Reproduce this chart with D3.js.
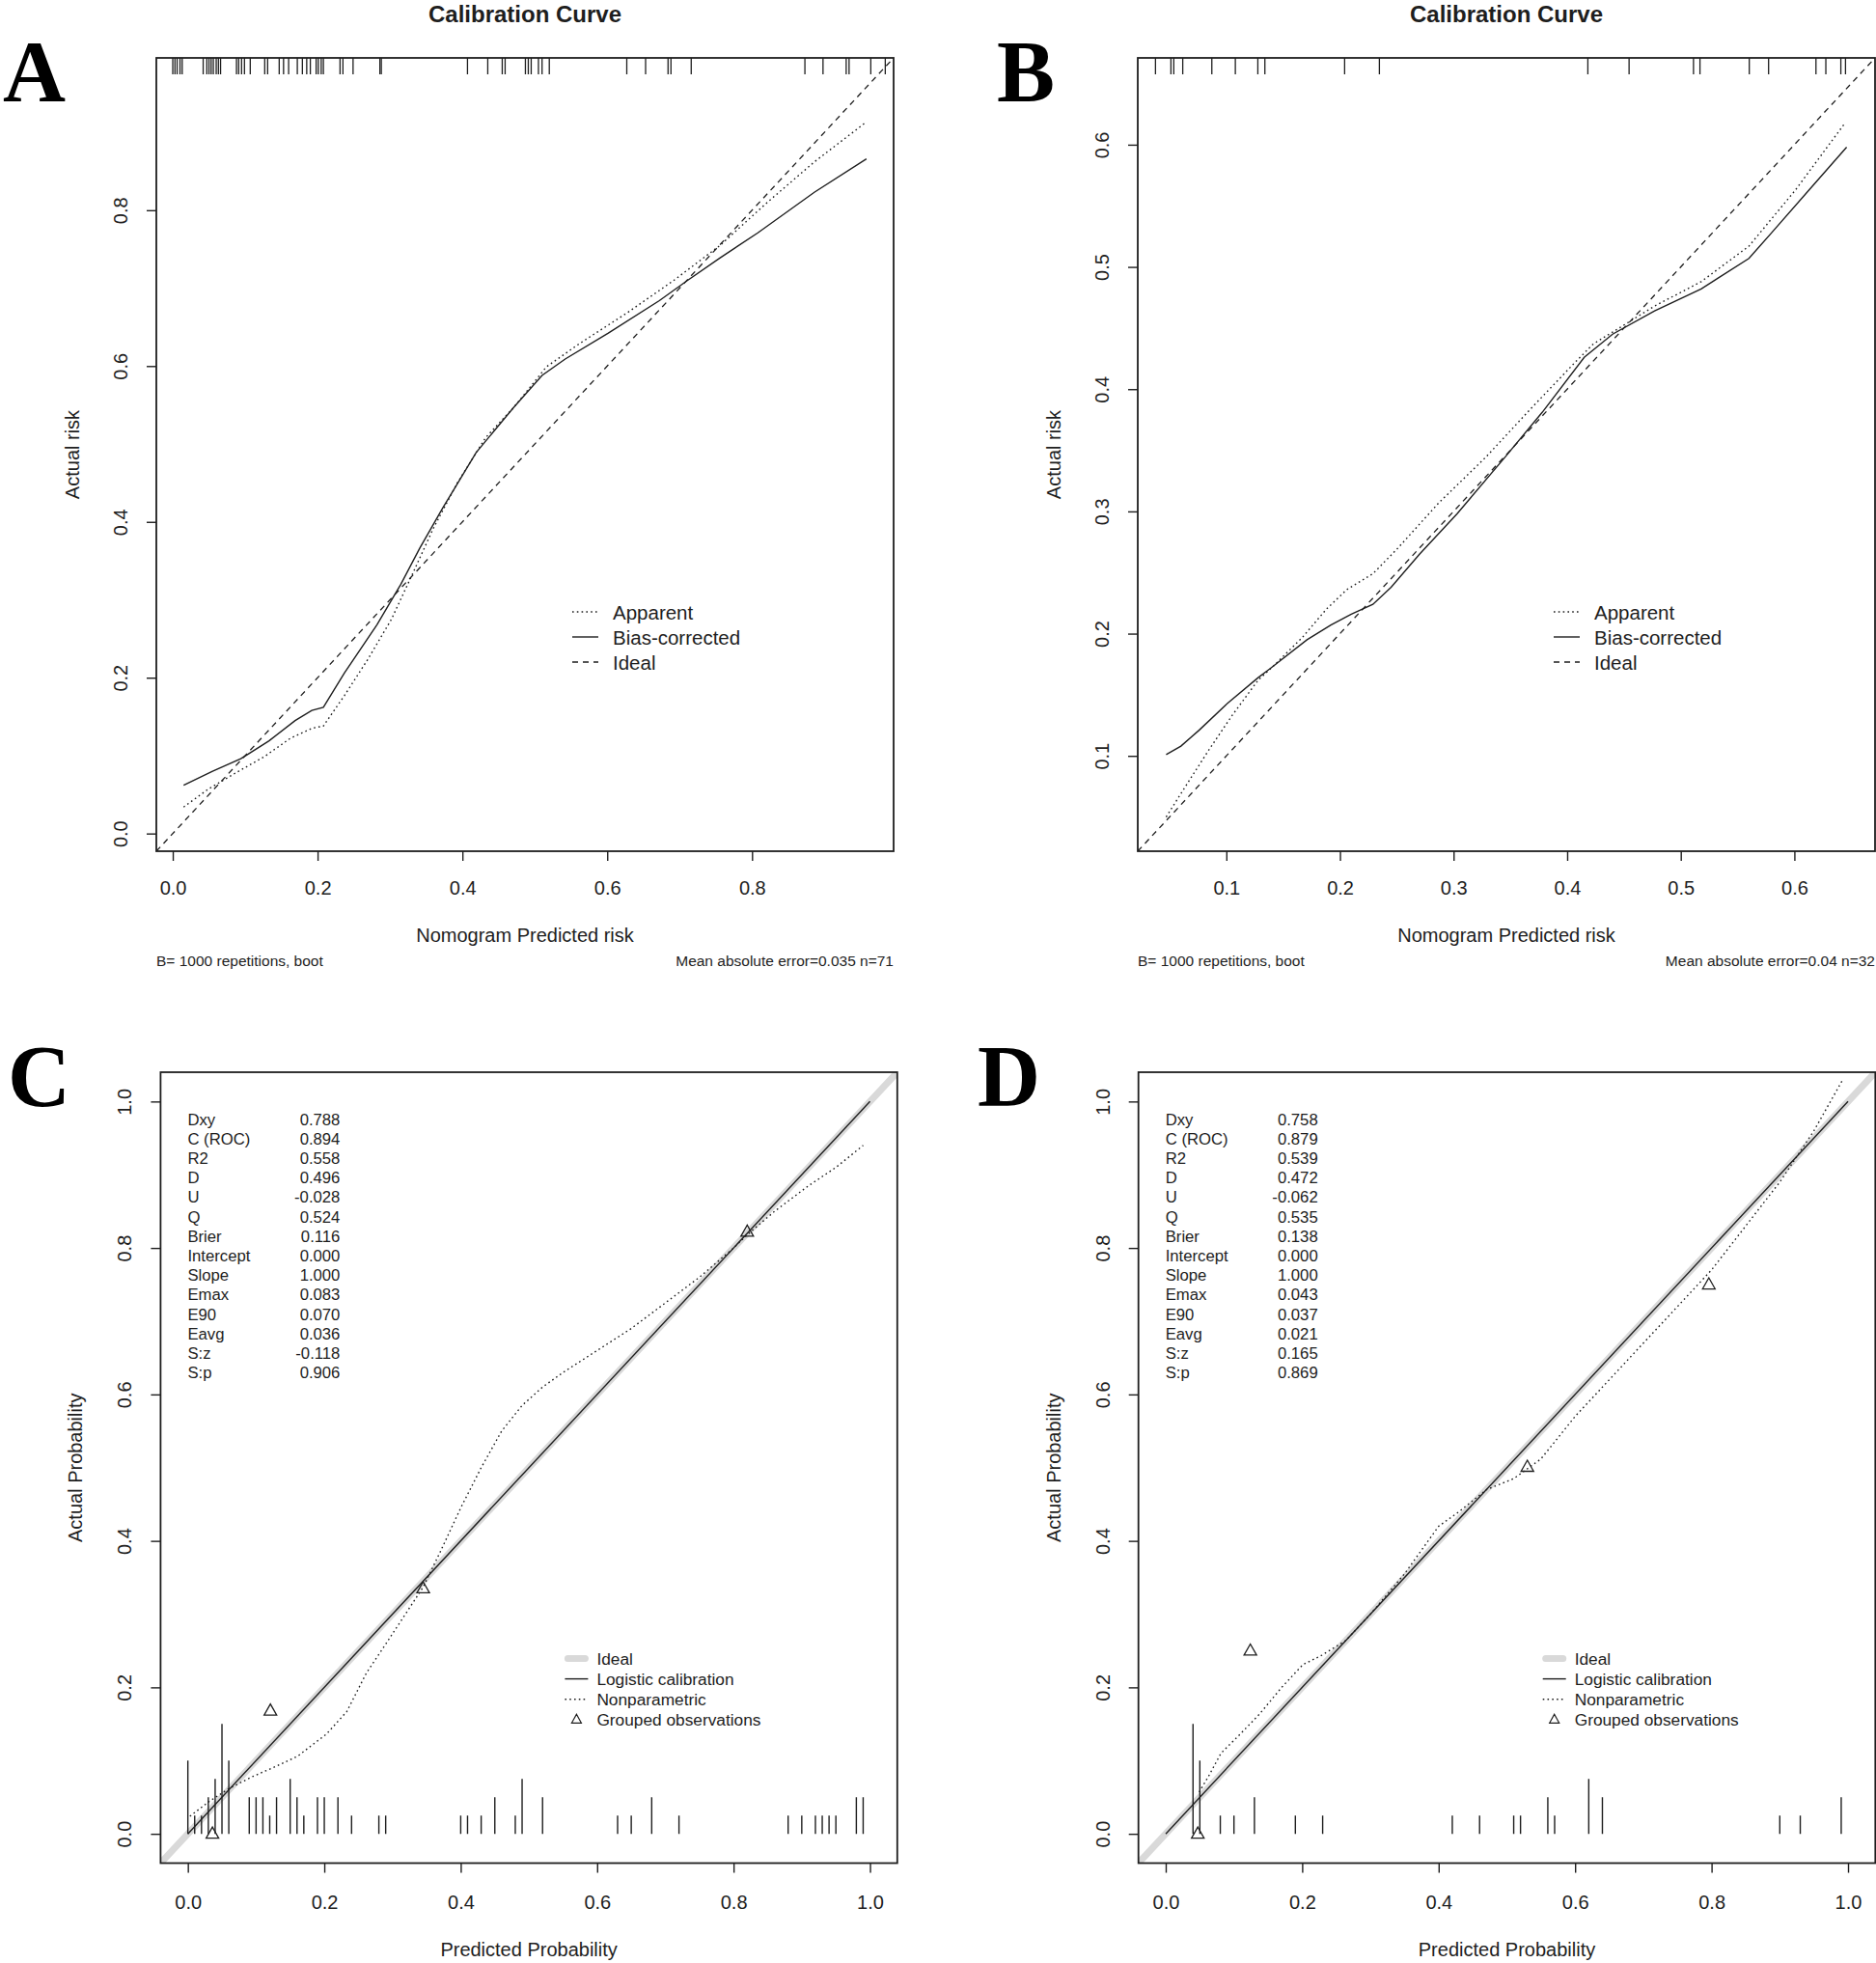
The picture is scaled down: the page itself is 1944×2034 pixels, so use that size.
<!DOCTYPE html>
<html><head><meta charset="utf-8">
<script src="https://cdn.jsdelivr.net/npm/d3@7"></script>
<style>body{margin:0;background:#fff}svg{display:block}</style>
</head><body>
<script>
// ---------------- DATA ----------------
const panelLetters = ["A","B","C","D"];
const titleText = "Calibration Curve";
const ticksA = [0,0.2,0.4,0.6,0.8];
const ticksB = [0.1,0.2,0.3,0.4,0.5,0.6];
const ticksCD = [0,0.2,0.4,0.6,0.8,1.0];

// Panel A (calibrate, n=71)
const rugA = [0.000,0.003,0.006,0.010,0.013,0.042,0.047,0.050,0.053,0.056,0.060,0.063,0.066,0.088,0.091,0.095,0.099,0.107,0.127,0.131,0.147,0.153,0.160,0.172,0.179,0.185,0.190,0.198,0.201,0.205,0.208,0.231,0.235,0.249,0.286,0.288,0.407,0.435,0.455,0.459,0.487,0.491,0.495,0.505,0.510,0.520,0.627,0.653,0.684,0.688,0.716,0.873,0.898,0.930,0.934,0.964,0.984];
const apparentA = [[0.015,0.034],[0.049,0.057],[0.091,0.080],[0.127,0.099],[0.162,0.122],[0.192,0.135],[0.208,0.138],[0.237,0.177],[0.269,0.223],[0.302,0.275],[0.331,0.333],[0.360,0.392],[0.393,0.450],[0.432,0.508],[0.471,0.547],[0.516,0.599],[0.562,0.629],[0.627,0.668],[0.692,0.710],[0.756,0.755],[0.821,0.810],[0.886,0.862],[0.956,0.912]];
const biasA = [[0.015,0.062],[0.055,0.080],[0.094,0.096],[0.133,0.119],[0.169,0.145],[0.192,0.158],[0.208,0.162],[0.237,0.206],[0.282,0.268],[0.315,0.320],[0.341,0.366],[0.373,0.418],[0.419,0.489],[0.471,0.547],[0.510,0.588],[0.542,0.609],[0.601,0.642],[0.672,0.684],[0.711,0.710],[0.756,0.739],[0.808,0.771],[0.886,0.823],[0.958,0.866]];
const footLeft = "B= 1000 repetitions, boot";
const footRightA = "Mean absolute error=0.035 n=71";

// Panel B (calibrate, n=32)
const rugB = [0.0376,0.0512,0.0537,0.0616,0.0872,0.1079,0.1277,0.1339,0.2041,0.2347,0.4182,0.4545,0.5112,0.5169,0.5603,0.5773,0.6190,0.6277,0.6409,0.6450];
const apparentB = [[0.047,0.050],[0.064,0.075],[0.084,0.104],[0.105,0.133],[0.128,0.162],[0.142,0.174],[0.167,0.197],[0.188,0.220],[0.206,0.236],[0.229,0.249],[0.250,0.269],[0.287,0.307],[0.328,0.344],[0.369,0.385],[0.407,0.422],[0.423,0.437],[0.444,0.449],[0.477,0.468],[0.518,0.488],[0.560,0.517],[0.601,0.563],[0.644,0.617]];
const biasB = [[0.047,0.101],[0.060,0.108],[0.076,0.121],[0.101,0.143],[0.128,0.164],[0.138,0.171],[0.171,0.195],[0.192,0.207],[0.210,0.216],[0.229,0.224],[0.245,0.238],[0.270,0.265],[0.303,0.298],[0.345,0.344],[0.378,0.381],[0.415,0.426],[0.440,0.445],[0.477,0.464],[0.518,0.482],[0.560,0.507],[0.580,0.528],[0.613,0.563],[0.646,0.598]];
const footRightB = "Mean absolute error=0.04 n=32";

// Legends
const legendAB = ["Apparent","Bias-corrected","Ideal"];
const legendCD = ["Ideal","Logistic calibration","Nonparametric","Grouped observations"];

// Panel C (val.prob, n=71)
const spikeXC = [0.00,0.01,0.02,0.03,0.04,0.05,0.06,0.09,0.10,0.11,0.12,0.13,0.15,0.16,0.17,0.19,0.20,0.22,0.24,0.28,0.29,0.40,0.41,0.43,0.45,0.48,0.49,0.52,0.63,0.65,0.68,0.72,0.88,0.90,0.92,0.93,0.94,0.95,0.98,0.99];
const spikeNC = [4,1,1,2,3,6,4,2,2,2,1,2,3,2,1,2,2,2,1,1,1,1,1,1,2,1,3,2,1,1,2,1,1,1,1,1,1,1,2,2];
const nonparC = [[0.003,0.024],[0.031,0.044],[0.059,0.061],[0.092,0.077],[0.124,0.090],[0.161,0.106],[0.186,0.124],[0.203,0.136],[0.233,0.167],[0.262,0.220],[0.290,0.259],[0.345,0.337],[0.370,0.385],[0.400,0.445],[0.430,0.500],[0.460,0.550],[0.490,0.585],[0.520,0.610],[0.550,0.630],[0.600,0.660],[0.650,0.690],[0.700,0.725],[0.750,0.760],[0.800,0.800],[0.820,0.818],[0.860,0.850],[0.910,0.885],[0.950,0.910],[0.990,0.940]];
const groupedC = [[0.036,0.0],[0.121,0.168],[0.345,0.335],[0.820,0.822]];
const logisticC = [[0,0],[1,1]];
const statNames = ["Dxy","C (ROC)","R2","D","U","Q","Brier","Intercept","Slope","Emax","E90","Eavg","S:z","S:p"];
const statsC = ["0.788","0.894","0.558","0.496","-0.028","0.524","0.116","0.000","1.000","0.083","0.070","0.036","-0.118","0.906"];

// Panel D (val.prob, n=32)
const spikeXD = [0.04,0.05,0.08,0.10,0.13,0.19,0.23,0.42,0.46,0.51,0.52,0.56,0.57,0.62,0.64,0.90,0.93,0.99];
const spikeND = [6,4,1,1,2,1,1,1,1,1,1,2,1,3,2,1,1,2];
const nonparD = [[0.049,0.057],[0.063,0.079],[0.081,0.110],[0.109,0.136],[0.137,0.163],[0.170,0.200],[0.201,0.231],[0.229,0.244],[0.264,0.264],[0.300,0.300],[0.350,0.355],[0.400,0.420],[0.430,0.440],[0.470,0.470],[0.510,0.485],[0.550,0.512],[0.600,0.570],[0.700,0.670],[0.800,0.770],[0.900,0.890],[0.950,0.960],[0.993,1.031]];
const groupedD = [[0.047,0.0],[0.124,0.250],[0.530,0.501],[0.796,0.750]];
const logisticD = [[0,0],[1,1]];
const statsD = ["0.758","0.879","0.539","0.472","-0.062","0.535","0.138","0.000","1.000","0.043","0.037","0.021","0.165","0.869"];

// ---------------- DRAW ----------------
const W = 1944, H = 2034;
const INK = "#1e1e1e";
const SANS = "'Liberation Sans', Arial, sans-serif";
const svg = d3.select("body").append("svg").attr("width", W).attr("height", H)
  .style("font-family", SANS);
svg.append("rect").attr("width", W).attr("height", H).attr("fill", "#fff");

function makePanel(id, box, dom) {
  const x = d3.scaleLinear().domain(dom).range([box.l, box.r]);
  const y = d3.scaleLinear().domain(dom).range([box.b, box.t]);
  svg.append("clipPath").attr("id", "clip" + id).append("rect")
    .attr("x", box.l).attr("y", box.t).attr("width", box.r - box.l).attr("height", box.b - box.t);
  const g = svg.append("g");
  const plot = g.append("g").attr("clip-path", `url(#clip${id})`);
  return {x, y, g, plot, box};
}

function axes(P, ticks, tickBase, fmt) {
  const {x, y, g, box} = P;
  const xa = g.append("g").attr("transform", `translate(0,${box.b})`)
    .call(d3.axisBottom(x).tickValues(ticks).tickSize(10).tickSizeOuter(0).tickFormat(fmt));
  xa.select(".domain").remove();
  xa.selectAll("line").attr("stroke", INK).attr("stroke-width", 1.4);
  xa.selectAll("text").attr("y", null).attr("dy", null).attr("font-family", SANS)
    .attr("font-size", 20).attr("fill", INK).attr("transform", `translate(0,${tickBase - box.b})`);
  const ya = g.append("g").attr("transform", `translate(${box.l},0)`)
    .call(d3.axisLeft(y).tickValues(ticks).tickSize(10).tickSizeOuter(0).tickFormat(fmt));
  ya.select(".domain").remove();
  ya.selectAll("line").attr("stroke", INK).attr("stroke-width", 1.4);
  ya.selectAll("text").attr("x", null).attr("dy", null).attr("font-family", SANS)
    .attr("font-size", 20).attr("fill", INK).attr("text-anchor", "middle")
    .attr("dominant-baseline", "central")
    .attr("transform", "translate(-37,0) rotate(-90)");
  g.append("rect").attr("x", box.l).attr("y", box.t).attr("width", box.r - box.l)
    .attr("height", box.b - box.t).attr("fill", "none").attr("stroke", INK).attr("stroke-width", 1.8);
}

const fmt1 = d3.format(".1f");
const line = (P) => d3.line().x(d => P.x(d[0])).y(d => P.y(d[1]));

function letter(t, xx, yy) {
  svg.append("text").attr("x", xx).attr("y", yy).text(t)
    .attr("font-family", "'Liberation Serif', 'Times New Roman', serif")
    .attr("font-weight", "bold").attr("font-size", 90).attr("fill", "#000");
}

// ---- calibrate panels (A, B) ----
function calibPanel(id, box, dom, ticks, rug, app, bias, footR) {
  const P = makePanel(id, box, dom);
  const {x, y, g, plot} = P;
  plot.append("path").attr("d", line(P)([[dom[0], dom[0]], [dom[1], dom[1]]]))
    .attr("fill", "none").attr("stroke", INK).attr("stroke-width", 1.3).attr("stroke-dasharray", "6,5");
  plot.append("path").attr("d", line(P)(app)).attr("fill", "none").attr("stroke", INK)
    .attr("stroke-width", 1.4).attr("stroke-dasharray", "1.6,3.2");
  plot.append("path").attr("d", line(P)(bias)).attr("fill", "none").attr("stroke", INK)
    .attr("stroke-width", 1.4);
  plot.selectAll(".rug").data(rug).enter().append("line")
    .attr("x1", d => x(d)).attr("x2", d => x(d)).attr("y1", box.t).attr("y2", box.t + 17)
    .attr("stroke", INK).attr("stroke-width", 1.3);
  axes(P, ticks, 927, fmt1);
  g.append("text").attr("x", (box.l + box.r) / 2).attr("y", 23).attr("text-anchor", "middle")
    .attr("font-size", 24).attr("font-weight", "bold").attr("fill", INK).text(titleText);
  g.append("text").attr("x", (box.l + box.r) / 2).attr("y", 976).attr("text-anchor", "middle")
    .attr("font-size", 20).attr("fill", INK).text("Nomogram Predicted risk");
  g.append("text").attr("transform", `translate(${box.l - 87},${(box.t + box.b) / 2}) rotate(-90)`)
    .attr("text-anchor", "middle").attr("dominant-baseline", "central")
    .attr("font-size", 20).attr("fill", INK).text("Actual risk");
  g.append("text").attr("x", box.l).attr("y", 1001).attr("font-size", 15.5).attr("fill", INK).text(footLeft);
  g.append("text").attr("x", box.r).attr("y", 1001).attr("text-anchor", "end")
    .attr("font-size", 15.5).attr("fill", INK).text(footR);
  const dashes = ["1.6,3.2", null, "6,5"];
  legendAB.forEach((t, i) => {
    const yy = 634 + i * 26;
    g.append("line").attr("x1", box.l + 431).attr("x2", box.l + 458).attr("y1", yy).attr("y2", yy)
      .attr("stroke", INK).attr("stroke-width", 1.4).attr("stroke-dasharray", dashes[i]);
    g.append("text").attr("x", box.l + 473).attr("y", yy).attr("dominant-baseline", "central")
      .attr("font-size", 20.5).attr("fill", INK).text(t);
  });
}

// ---- val.prob panels (C, D) ----
function valPanel(id, box, dom, spX, spN, nonpar, grouped, logistic, stats) {
  const P = makePanel(id, box, dom);
  const {x, y, g, plot} = P;
  plot.append("path").attr("d", line(P)([[dom[0], dom[0]], [dom[1], dom[1]]]))
    .attr("fill", "none").attr("stroke", "#d9d9d9").attr("stroke-width", 7).attr("stroke-linecap", "round");
  plot.append("path").attr("d", line(P)(logistic)).attr("fill", "none").attr("stroke", INK).attr("stroke-width", 1.4);
  plot.append("path").attr("d", line(P)(nonpar)).attr("fill", "none").attr("stroke", INK)
    .attr("stroke-width", 1.4).attr("stroke-dasharray", "1.6,3.2");
  plot.selectAll(".spk").data(spX).enter().append("line")
    .attr("x1", d => x(d)).attr("x2", d => x(d)).attr("y1", y(0))
    .attr("y2", (d, i) => y(spN[i] * 0.025))
    .attr("stroke", INK).attr("stroke-width", 1.4);
  const tri = "M0,-7L6.5,4.5L-6.5,4.5Z";
  plot.selectAll(".tri").data(grouped).enter().append("path")
    .attr("d", tri).attr("transform", d => `translate(${x(d[0])},${y(d[1])})`)
    .attr("fill", "none").attr("stroke", INK).attr("stroke-width", 1.3);
  axes(P, ticksCD, 1978, fmt1);
  g.append("text").attr("x", (box.l + box.r) / 2).attr("y", 2027).attr("text-anchor", "middle")
    .attr("font-size", 20).attr("fill", INK).text("Predicted Probability");
  g.append("text").attr("transform", `translate(${box.l - 88},${(box.t + box.b) / 2}) rotate(-90)`)
    .attr("text-anchor", "middle").attr("dominant-baseline", "central")
    .attr("font-size", 20).attr("fill", INK).text("Actual Probability");
  statNames.forEach((n, i) => {
    const yy = 1160 + i * 20.2;
    g.append("text").attr("x", box.l + 28).attr("y", yy).attr("dominant-baseline", "central")
      .attr("font-size", 16.7).attr("fill", INK).text(n);
    g.append("text").attr("x", box.l + 186).attr("y", yy).attr("dominant-baseline", "central")
      .attr("text-anchor", "end").attr("font-size", 16.7).attr("fill", INK).text(stats[i]);
  });
  legendCD.forEach((t, i) => {
    const yy = 1718.5 + i * 21.1;
    const x1 = box.l + 419, x2 = box.l + 443;
    if (i === 0) g.append("line").attr("x1", x1 + 3).attr("x2", x2 - 3).attr("y1", yy).attr("y2", yy)
      .attr("stroke", "#d9d9d9").attr("stroke-width", 7).attr("stroke-linecap", "round");
    if (i === 1) g.append("line").attr("x1", x1).attr("x2", x2).attr("y1", yy).attr("y2", yy)
      .attr("stroke", INK).attr("stroke-width", 1.4);
    if (i === 2) g.append("line").attr("x1", x1).attr("x2", x2).attr("y1", yy).attr("y2", yy)
      .attr("stroke", INK).attr("stroke-width", 1.4).attr("stroke-dasharray", "1.6,3.2");
    if (i === 3) g.append("path").attr("d", "M0,-5.5L5,3.5L-5,3.5Z")
      .attr("transform", `translate(${(x1 + x2) / 2},${yy})`)
      .attr("fill", "none").attr("stroke", INK).attr("stroke-width", 1.2);
    g.append("text").attr("x", box.l + 452).attr("y", yy).attr("dominant-baseline", "central")
      .attr("font-size", 17.3).attr("fill", INK).text(t);
  });
}

calibPanel("A", {l:162, r:926, t:60, b:882}, [-0.0227, 0.9955], ticksA, rugA, apparentA, biasA, footRightA);
calibPanel("B", {l:1179, r:1943, t:60, b:882}, [0.022, 0.671], ticksB, rugB, apparentB, biasB, footRightB);
valPanel("C", {l:166.4, r:929.8, t:1111, b:1930.5}, [-0.04, 1.04], spikeXC, spikeNC, nonparC, groupedC, logisticC, statsC);
valPanel("D", {l:1179.7, r:1943.3, t:1111, b:1930.5}, [-0.04, 1.04], spikeXD, spikeND, nonparD, groupedD, logisticD, statsD);

letter(panelLetters[0], 3, 105);
letter(panelLetters[1], 1033, 105);
letter(panelLetters[2], 8, 1146);
letter(panelLetters[3], 1013, 1146);
</script>
</body></html>
